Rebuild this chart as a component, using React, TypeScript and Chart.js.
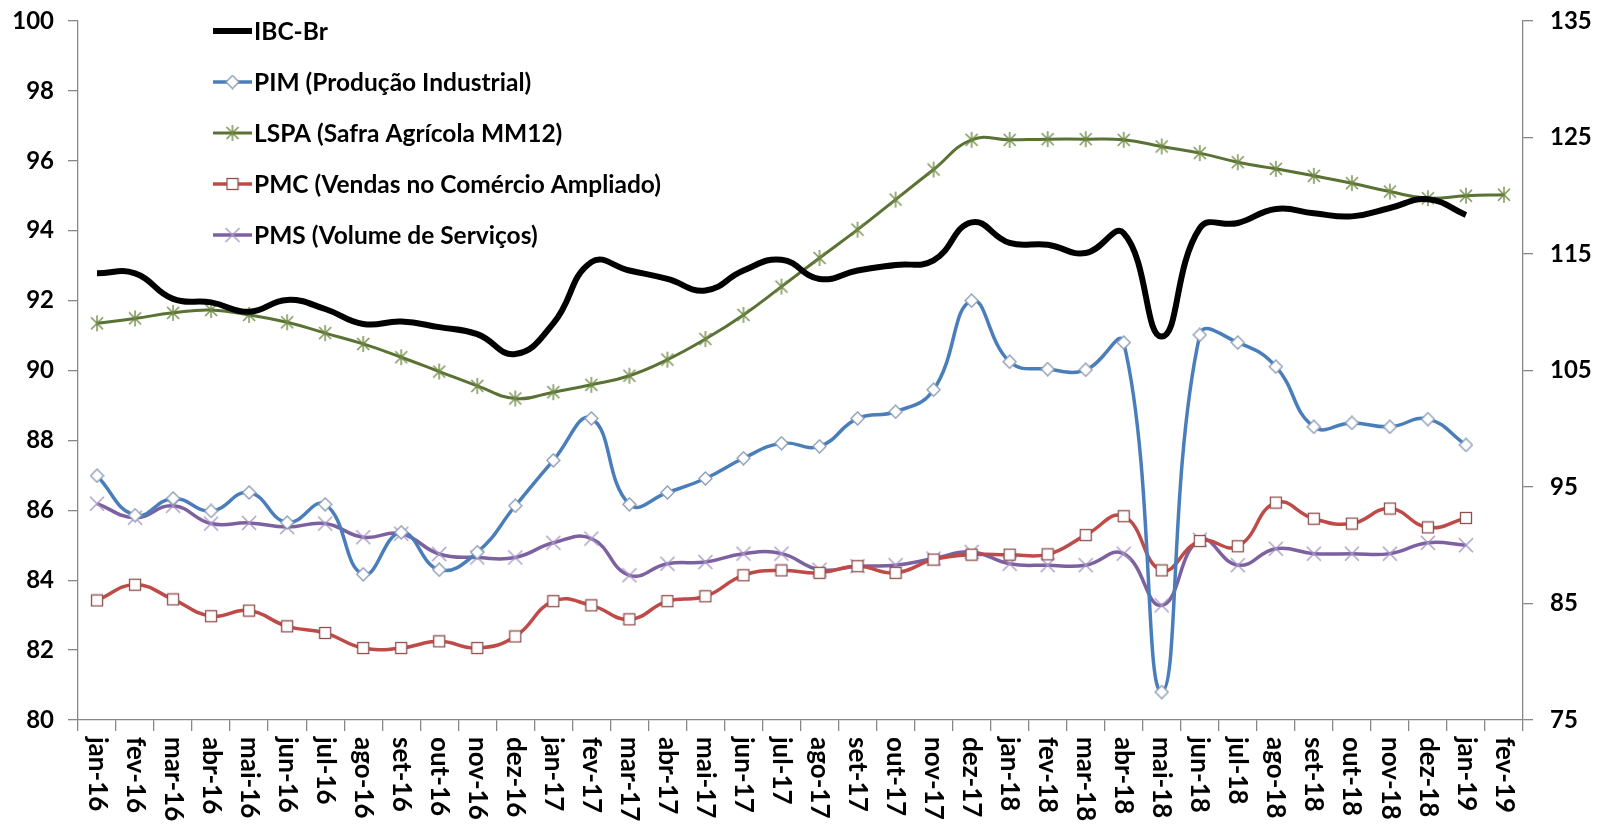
import React, { useEffect, useRef } from 'react';
import { Chart, registerables } from 'chart.js';

Chart.register(...registerables);

const labels = [
  'jan-16', 'fev-16', 'mar-16', 'abr-16', 'mai-16', 'jun-16', 'jul-16', 'ago-16', 'set-16', 'out-16', 'nov-16', 'dez-16',
  'jan-17', 'fev-17', 'mar-17', 'abr-17', 'mai-17', 'jun-17', 'jul-17', 'ago-17', 'set-17', 'out-17', 'nov-17', 'dez-17',
  'jan-18', 'fev-18', 'mar-18', 'abr-18', 'mai-18', 'jun-18', 'jul-18', 'ago-18', 'set-18', 'out-18', 'nov-18', 'dez-18',
  'jan-19', 'fev-19',
];

const ibcBr = [
  92.78, 92.78, 92.05, 91.95, 91.68, 92.02, 91.76, 91.33, 91.4, 91.24, 91.04, 90.47,
  91.35, 93.1, 92.86, 92.62, 92.29, 92.86, 93.17, 92.62, 92.86, 93.02, 93.15, 94.24,
  93.65, 93.6, 93.36, 93.93, 90.97, 94.07, 94.22, 94.62, 94.5, 94.41, 94.65, 94.9,
  94.45, null,
];

const pim = [
  86.99, 85.86, 86.34, 85.98, 86.51, 85.65, 86.17, 84.17, 85.37, 84.3, 84.8, 86.13,
  87.43, 88.63, 86.17, 86.51, 86.91, 87.49, 87.92, 87.83, 88.63, 88.82, 89.45, 92.0,
  90.25, 90.04, 90.02, 90.8, 80.8, 91.02, 90.8, 90.11, 88.39, 88.5, 88.39, 88.61,
  87.87, null,
];

// LSPA read against the right-hand axis (75–135)
const lspa = [
  109.05, 109.47, 109.95, 110.19, 109.77, 109.14, 108.21, 107.28, 106.14, 104.91, 103.68, 102.6,
  103.14, 103.77, 104.55, 105.93, 107.7, 109.77, 112.2, 114.66, 117.09, 119.67, 122.25, 124.8,
  124.8, 124.86, 124.86, 124.8, 124.23, 123.66, 122.88, 122.31, 121.71, 121.08, 120.36, 119.79,
  120.0, 120.09,
];

const pmc = [
  83.42, 83.87, 83.45, 82.97, 83.13, 82.68, 82.49, 82.06, 82.06, 82.25, 82.06, 82.39,
  83.4, 83.28, 82.88, 83.4, 83.54, 84.14, 84.28, 84.21, 84.4, 84.21, 84.59, 84.73,
  84.73, 84.74, 85.29, 85.83, 84.28, 85.12, 84.97, 86.22, 85.76, 85.62, 86.05, 85.51,
  85.78, null,
];

const pms = [
  86.19, 85.79, 86.13, 85.62, 85.64, 85.52, 85.62, 85.23, 85.33, 84.75, 84.65, 84.65,
  85.07, 85.19, 84.14, 84.47, 84.52, 84.76, 84.76, 84.3, 84.4, 84.43, 84.62, 84.81,
  84.47, 84.43, 84.43, 84.76, 83.28, 85.16, 84.43, 84.9, 84.76, 84.76, 84.76, 85.07,
  85.0, null,
];

const seriesNames = [
  'IBC-Br',
  'PIM (Produção Industrial)',
  'LSPA (Safra Agrícola MM12)',
  'PMC (Vendas no Comércio Ampliado)',
  'PMS (Volume de Serviços)',
];

const leftTicks = { min: 80, max: 100, step: 2 };
const rightTicks = { min: 75, max: 135, step: 10 };

const FONT = 'Lato, "Open Sans", sans-serif';
const AXIS_GREY = '#878787';

function makeMarker(kind: string): HTMLCanvasElement {
  const size = kind === 'square' ? 14 : kind === 'diamond' ? 15 : 18;
  const c = document.createElement('canvas');
  c.width = size;
  c.height = size;
  const ctx = c.getContext('2d') as CanvasRenderingContext2D;
  const m = size / 2;
  ctx.lineWidth = 1.3;
  if (kind === 'diamond') {
    ctx.beginPath();
    ctx.moveTo(m, 1);
    ctx.lineTo(size - 1, m);
    ctx.lineTo(m, size - 1);
    ctx.lineTo(1, m);
    ctx.closePath();
    ctx.fillStyle = '#ffffff';
    ctx.fill();
    ctx.strokeStyle = '#8A9BB3';
    ctx.stroke();
  } else if (kind === 'square') {
    ctx.fillStyle = '#ffffff';
    ctx.fillRect(1.5, 1.5, size - 3, size - 3);
    ctx.strokeStyle = '#8E4F4D';
    ctx.strokeRect(1.5, 1.5, size - 3, size - 3);
  } else if (kind === 'star') {
    ctx.strokeStyle = '#6F8A45';
    ctx.lineWidth = 1.4;
    const r = m - 1;
    ctx.beginPath();
    ctx.moveTo(m, m - r);
    ctx.lineTo(m, m + r);
    const d = r * 0.75;
    ctx.moveTo(m - d, m - d);
    ctx.lineTo(m + d, m + d);
    ctx.moveTo(m + d, m - d);
    ctx.lineTo(m - d, m + d);
    ctx.stroke();
  } else if (kind === 'x') {
    ctx.strokeStyle = '#A596C4';
    ctx.lineWidth = 1.4;
    const d = m - 2;
    ctx.beginPath();
    ctx.moveTo(m - d, m - d);
    ctx.lineTo(m + d, m + d);
    ctx.moveTo(m + d, m - d);
    ctx.lineTo(m - d, m + d);
    ctx.stroke();
  }
  return c;
}

const xLabelsPlugin = {
  id: 'xLabelsRotated',
  afterDraw(chart: any) {
    const xs = chart.scales.x;
    const ctx = chart.ctx;
    ctx.save();
    ctx.font = `bold 26px ${FONT}`;
    ctx.fillStyle = '#000000';
    ctx.textAlign = 'left';
    ctx.textBaseline = 'middle';
    chart.data.labels.forEach((lab: string, i: number) => {
      const x = xs.getPixelForValue(i);
      ctx.save();
      ctx.translate(x, xs.top + 17);
      ctx.rotate(Math.PI / 2);
      ctx.fillText(lab, 0, 0);
      ctx.restore();
    });
    ctx.restore();
  },
};

const legendPlugin = {
  id: 'insideLegend',
  afterDraw(chart: any) {
    const ctx = chart.ctx;
    ctx.save();
    ctx.font = `bold 24.5px ${FONT}`;
    ctx.textBaseline = 'middle';
    ctx.textAlign = 'left';
    chart.data.datasets.forEach((ds: any, i: number) => {
      const y = 31 + i * 51;
      const x0 = 213;
      const x1 = 252;
      ctx.beginPath();
      ctx.strokeStyle = ds.borderColor;
      ctx.lineWidth = ds.borderWidth;
      ctx.lineCap = 'butt';
      ctx.moveTo(x0, y);
      ctx.lineTo(x1, y);
      ctx.stroke();
      const ps = ds.pointStyle;
      if (ps && typeof ps === 'object') {
        ctx.drawImage(ps, (x0 + x1) / 2 - ps.width / 2, y - ps.height / 2);
      }
      ctx.fillStyle = '#000000';
      ctx.fillText(ds.label, x1 + 2, y + 1);
    });
    ctx.restore();
  },
};

export default function App() {
  const ref = useRef<HTMLCanvasElement | null>(null);

  useEffect(() => {
    document.body.style.margin = '0';
    document.body.style.overflow = 'hidden';
    const canvas = ref.current;
    if (!canvas) return;

    const tickFont = { family: FONT, size: 24, weight: 'bold' as const };

    const chart = new Chart(canvas, {
      type: 'line',
      data: {
        labels,
        datasets: [
          {
            label: seriesNames[0],
            data: ibcBr,
            borderColor: '#000000',
            borderWidth: 6,
            pointRadius: 0,
            tension: 0.45,
            yAxisID: 'y',
            spanGaps: false,
          },
          {
            label: seriesNames[1],
            data: pim,
            borderColor: '#4A7EBB',
            borderWidth: 3.5,
            pointStyle: makeMarker('diamond'),
            pointRadius: 6,
            tension: 0.45,
            yAxisID: 'y',
          },
          {
            label: seriesNames[2],
            data: lspa,
            borderColor: '#5A7233',
            borderWidth: 3,
            pointStyle: makeMarker('star'),
            pointRadius: 6,
            tension: 0.45,
            yAxisID: 'y1',
          },
          {
            label: seriesNames[3],
            data: pmc,
            borderColor: '#BE4B48',
            borderWidth: 3.5,
            pointStyle: makeMarker('square'),
            pointRadius: 6,
            tension: 0.45,
            yAxisID: 'y',
          },
          {
            label: seriesNames[4],
            data: pms,
            borderColor: '#7D60A0',
            borderWidth: 3.5,
            pointStyle: makeMarker('x'),
            pointRadius: 6,
            tension: 0.45,
            yAxisID: 'y',
          },
        ],
      },
      options: {
        responsive: false,
        animation: false,
        events: [],
        layout: { padding: { top: 21, bottom: 0, left: 0, right: 0 } },
        plugins: {
          legend: { display: false },
          tooltip: { enabled: false },
        },
        scales: {
          x: {
            offset: true,
            grid: {
              display: true,
              drawOnChartArea: false,
              offset: true,
              drawTicks: true,
              tickLength: 11,
              color: AXIS_GREY,
              lineWidth: 1.3,
            },
            border: { display: true, color: AXIS_GREY, width: 1.3 },
            ticks: { display: false },
            afterFit: (s: any) => {
              s.height = 105;
              s.paddingLeft = 0;
              s.paddingRight = 0;
            },
          },
          y: {
            position: 'left',
            min: leftTicks.min,
            max: leftTicks.max,
            ticks: {
              stepSize: leftTicks.step,
              font: tickFont,
              color: '#000000',
              padding: 14,
            },
            grid: {
              drawOnChartArea: false,
              drawTicks: true,
              tickLength: 10,
              color: AXIS_GREY,
              lineWidth: 1.3,
            },
            border: { display: true, color: AXIS_GREY, width: 1.3 },
            afterFit: (s: any) => {
              s.width = 78;
              s.paddingTop = 0;
              s.paddingBottom = 0;
            },
          },
          y1: {
            position: 'right',
            min: rightTicks.min,
            max: rightTicks.max,
            ticks: {
              stepSize: rightTicks.step,
              font: tickFont,
              color: '#000000',
              padding: 17,
            },
            grid: {
              drawOnChartArea: false,
              drawTicks: true,
              tickLength: 10,
              color: AXIS_GREY,
              lineWidth: 1.3,
            },
            border: { display: true, color: AXIS_GREY, width: 1.3 },
            afterFit: (s: any) => {
              s.width = 75;
              s.paddingTop = 0;
              s.paddingBottom = 0;
            },
          },
        },
      },
      plugins: [xLabelsPlugin, legendPlugin],
    });

    return () => {
      chart.destroy();
    };
  }, []);

  return (
    <div style={{ width: 1598, height: 825, background: '#ffffff' }}>
      <canvas ref={ref} width={1598} height={825} style={{ display: 'block' }} />
    </div>
  );
}
